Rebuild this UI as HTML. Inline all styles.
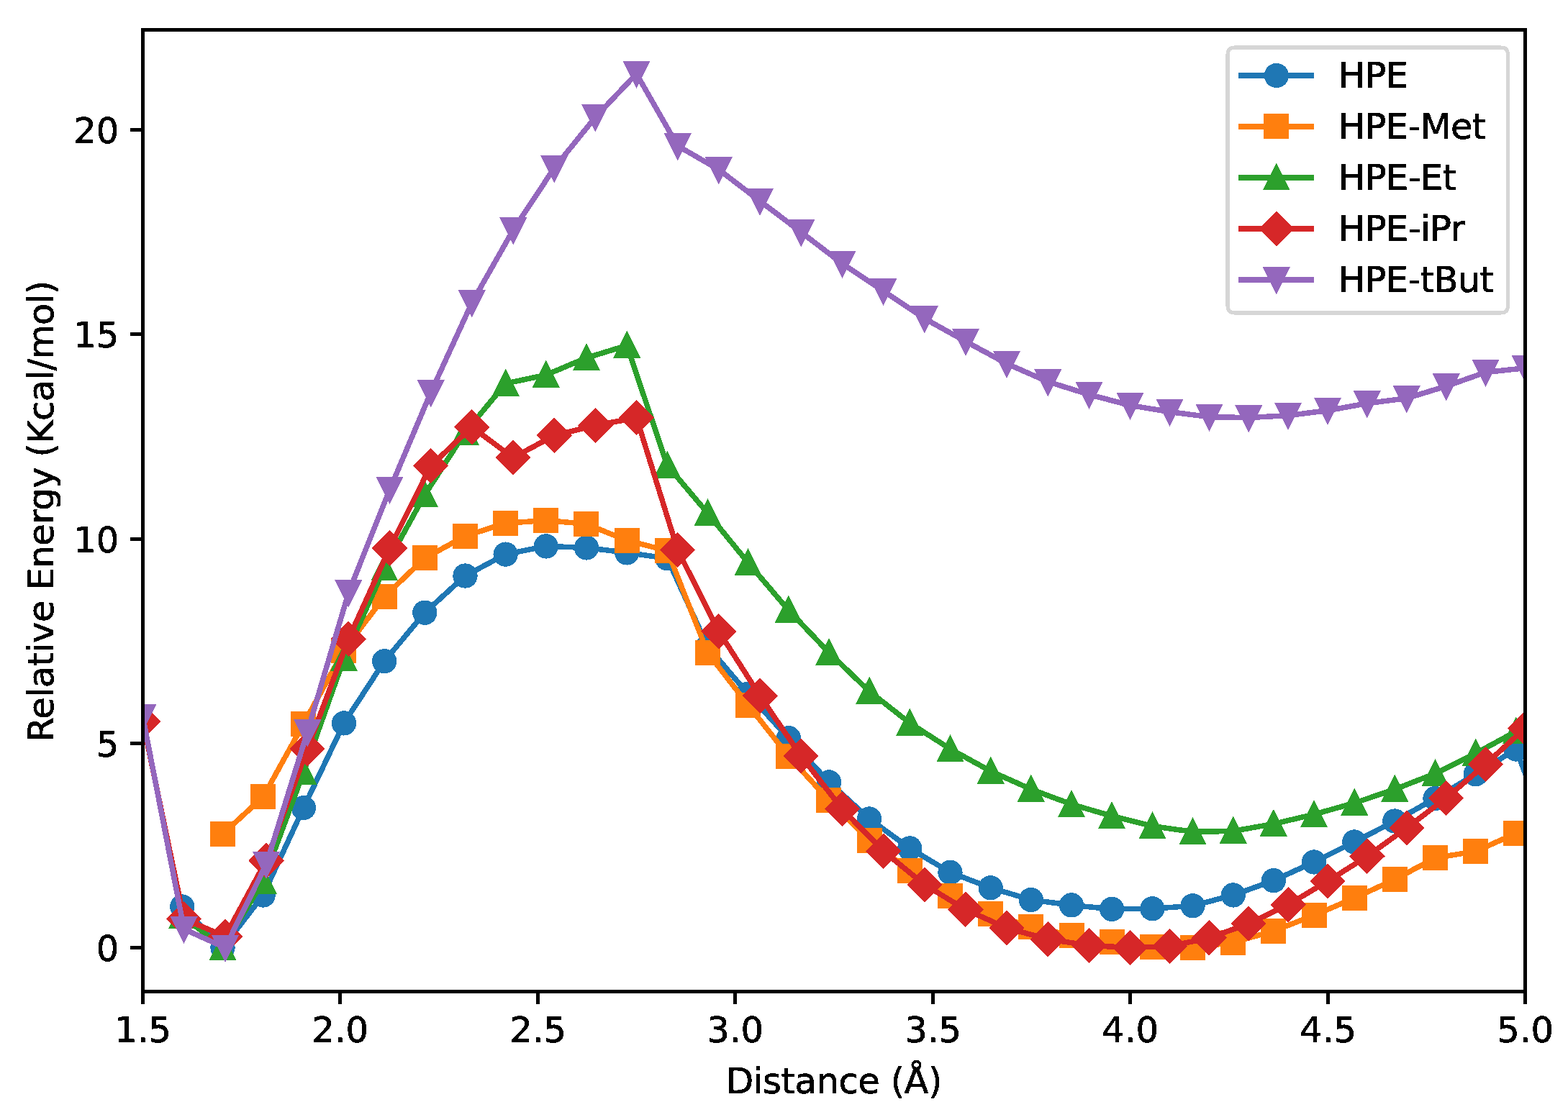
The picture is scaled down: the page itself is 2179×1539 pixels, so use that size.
<!DOCTYPE html>
<html lang="en"><head><meta charset="utf-8"><title>Relative Energy vs Distance</title>
<style>html,body{margin:0;padding:0;background:#fff}body{width:2179px;height:1539px;overflow:hidden}svg{display:block}text{font-family:"DejaVu Sans","Liberation Sans",sans-serif;font-size:49.6px;fill:#000;stroke:#000;stroke-width:0.7;stroke-linejoin:round}</style></head><body>
<svg width="2179" height="1539" viewBox="0 0 2179 1539">
<rect width="2179" height="1539" fill="#fff"/>
<filter id="mono" x="0" y="0" width="2179" height="1539" filterUnits="userSpaceOnUse" color-interpolation-filters="sRGB"><feComponentTransfer><feFuncA type="discrete" tableValues="0 1"/></feComponentTransfer></filter>
<svg x="198.5" y="41.5" width="1921" height="1337" viewBox="198.5 41.5 1921 1337" overflow="hidden" shape-rendering="crispEdges">
<g fill="#1f77b4" stroke="none">
<polyline fill="none" stroke="#1f77b4" stroke-width="7.5" stroke-linejoin="round" stroke-linecap="square" points="253.3,1260.5 309.47,1317.5 365.64,1244.5 421.8,1123.1 477.97,1005.4 534.14,919.3 590.31,851.7 646.48,800.5 702.64,770.6 758.81,759.4 814.98,761.45 871.15,768.4 927.32,776.3 983.48,899 1039.65,964.7 1095.82,1026.2 1151.99,1087.4 1208.16,1138.45 1264.32,1179.4 1320.49,1212.8 1376.66,1234.3 1432.83,1251 1489,1258.35 1545.16,1263.9 1601.33,1263.3 1657.5,1259.3 1713.67,1244.45 1769.84,1224.2 1826,1198.5 1882.17,1170.5 1938.34,1141.5 1994.51,1110 2050.68,1076.3 2106.84,1041.5 2163.01,1191.5"/>
<path d="M236.15 1260.5a17.15 17.15 0 1 0 34.3 0a17.15 17.15 0 1 0 -34.3 0zM292.32 1317.5a17.15 17.15 0 1 0 34.3 0a17.15 17.15 0 1 0 -34.3 0zM348.49 1244.5a17.15 17.15 0 1 0 34.3 0a17.15 17.15 0 1 0 -34.3 0zM404.65 1123.1a17.15 17.15 0 1 0 34.3 0a17.15 17.15 0 1 0 -34.3 0zM460.82 1005.4a17.15 17.15 0 1 0 34.3 0a17.15 17.15 0 1 0 -34.3 0zM516.99 919.3a17.15 17.15 0 1 0 34.3 0a17.15 17.15 0 1 0 -34.3 0zM573.16 851.7a17.15 17.15 0 1 0 34.3 0a17.15 17.15 0 1 0 -34.3 0zM629.33 800.5a17.15 17.15 0 1 0 34.3 0a17.15 17.15 0 1 0 -34.3 0zM685.49 770.6a17.15 17.15 0 1 0 34.3 0a17.15 17.15 0 1 0 -34.3 0zM741.66 759.4a17.15 17.15 0 1 0 34.3 0a17.15 17.15 0 1 0 -34.3 0zM797.83 761.45a17.15 17.15 0 1 0 34.3 0a17.15 17.15 0 1 0 -34.3 0zM854 768.4a17.15 17.15 0 1 0 34.3 0a17.15 17.15 0 1 0 -34.3 0zM910.17 776.3a17.15 17.15 0 1 0 34.3 0a17.15 17.15 0 1 0 -34.3 0zM966.33 899a17.15 17.15 0 1 0 34.3 0a17.15 17.15 0 1 0 -34.3 0zM1022.5 964.7a17.15 17.15 0 1 0 34.3 0a17.15 17.15 0 1 0 -34.3 0zM1078.67 1026.2a17.15 17.15 0 1 0 34.3 0a17.15 17.15 0 1 0 -34.3 0zM1134.84 1087.4a17.15 17.15 0 1 0 34.3 0a17.15 17.15 0 1 0 -34.3 0zM1191.01 1138.45a17.15 17.15 0 1 0 34.3 0a17.15 17.15 0 1 0 -34.3 0zM1247.17 1179.4a17.15 17.15 0 1 0 34.3 0a17.15 17.15 0 1 0 -34.3 0zM1303.34 1212.8a17.15 17.15 0 1 0 34.3 0a17.15 17.15 0 1 0 -34.3 0zM1359.51 1234.3a17.15 17.15 0 1 0 34.3 0a17.15 17.15 0 1 0 -34.3 0zM1415.68 1251a17.15 17.15 0 1 0 34.3 0a17.15 17.15 0 1 0 -34.3 0zM1471.85 1258.35a17.15 17.15 0 1 0 34.3 0a17.15 17.15 0 1 0 -34.3 0zM1528.01 1263.9a17.15 17.15 0 1 0 34.3 0a17.15 17.15 0 1 0 -34.3 0zM1584.18 1263.3a17.15 17.15 0 1 0 34.3 0a17.15 17.15 0 1 0 -34.3 0zM1640.35 1259.3a17.15 17.15 0 1 0 34.3 0a17.15 17.15 0 1 0 -34.3 0zM1696.52 1244.45a17.15 17.15 0 1 0 34.3 0a17.15 17.15 0 1 0 -34.3 0zM1752.69 1224.2a17.15 17.15 0 1 0 34.3 0a17.15 17.15 0 1 0 -34.3 0zM1808.85 1198.5a17.15 17.15 0 1 0 34.3 0a17.15 17.15 0 1 0 -34.3 0zM1865.02 1170.5a17.15 17.15 0 1 0 34.3 0a17.15 17.15 0 1 0 -34.3 0zM1921.19 1141.5a17.15 17.15 0 1 0 34.3 0a17.15 17.15 0 1 0 -34.3 0zM1977.36 1110a17.15 17.15 0 1 0 34.3 0a17.15 17.15 0 1 0 -34.3 0zM2033.53 1076.3a17.15 17.15 0 1 0 34.3 0a17.15 17.15 0 1 0 -34.3 0zM2089.69 1041.5a17.15 17.15 0 1 0 34.3 0a17.15 17.15 0 1 0 -34.3 0zM2145.86 1191.5a17.15 17.15 0 1 0 34.3 0a17.15 17.15 0 1 0 -34.3 0z"/>
</g>
<g fill="#ff7f0e" stroke="none">
<polyline fill="none" stroke="#ff7f0e" stroke-width="7.5" stroke-linejoin="round" stroke-linecap="square" points="309.47,1159.4 365.64,1107.95 421.8,1006.4 477.97,904.2 534.14,829.5 590.31,775.9 646.48,745.3 702.64,727.3 758.81,723.5 814.98,728.45 871.15,751.5 927.32,765.6 983.48,907.45 1039.65,980.1 1095.82,1051.2 1151.99,1112.5 1208.16,1168.4 1264.32,1210.5 1320.49,1245.4 1376.66,1270.5 1432.83,1288.45 1489,1300.35 1545.16,1309.2 1601.33,1316.3 1657.5,1317.5 1713.67,1310.2 1769.84,1294.3 1826,1272.5 1882.17,1248.5 1938.34,1222.6 1994.51,1192.7 2050.68,1183.6 2106.84,1158.5"/>
<path d="M291.97 1141.9h35v35h-35zM348.14 1090.45h35v35h-35zM404.3 988.9h35v35h-35zM460.47 886.7h35v35h-35zM516.64 812h35v35h-35zM572.81 758.4h35v35h-35zM628.98 727.8h35v35h-35zM685.14 709.8h35v35h-35zM741.31 706h35v35h-35zM797.48 710.95h35v35h-35zM853.65 734h35v35h-35zM909.82 748.1h35v35h-35zM965.98 889.95h35v35h-35zM1022.15 962.6h35v35h-35zM1078.32 1033.7h35v35h-35zM1134.49 1095h35v35h-35zM1190.66 1150.9h35v35h-35zM1246.82 1193h35v35h-35zM1302.99 1227.9h35v35h-35zM1359.16 1253h35v35h-35zM1415.33 1270.95h35v35h-35zM1471.5 1282.85h35v35h-35zM1527.66 1291.7h35v35h-35zM1583.83 1298.8h35v35h-35zM1640 1300h35v35h-35zM1696.17 1292.7h35v35h-35zM1752.34 1276.8h35v35h-35zM1808.5 1255h35v35h-35zM1864.67 1231h35v35h-35zM1920.84 1205.1h35v35h-35zM1977.01 1175.2h35v35h-35zM2033.18 1166.1h35v35h-35zM2089.34 1141h35v35h-35z"/>
</g>
<g fill="#2ca02c" stroke="none">
<polyline fill="none" stroke="#2ca02c" stroke-width="7.5" stroke-linejoin="round" stroke-linecap="square" points="253.3,1273.2 309.47,1317.5 365.64,1225.2 421.8,1073.8 477.97,915.8 534.14,789.9 590.31,687.9 646.48,601 702.64,533.2 758.81,521.2 814.98,497.5 871.15,480.3 927.32,647 983.48,713.5 1039.65,782.4 1095.82,848.25 1151.99,907.3 1208.16,961.1 1264.32,1005.2 1320.49,1041.2 1376.66,1072.1 1432.83,1097.25 1489,1118.15 1545.16,1134.5 1601.33,1148.5 1657.5,1156.4 1713.67,1155.4 1769.84,1145.45 1826,1132.2 1882.17,1116.4 1938.34,1097.3 1994.51,1075.35 2050.68,1047.4 2106.84,1016.8"/>
<path d="M253.3 1252.61L272.35 1290.7L234.25 1290.7zM309.47 1296.91L328.52 1335L290.42 1335zM365.64 1204.61L384.69 1242.7L346.59 1242.7zM421.8 1053.21L440.85 1091.3L402.75 1091.3zM477.97 895.21L497.02 933.3L458.92 933.3zM534.14 769.31L553.19 807.4L515.09 807.4zM590.31 667.31L609.36 705.4L571.26 705.4zM646.48 580.41L665.53 618.5L627.43 618.5zM702.64 512.61L721.69 550.7L683.59 550.7zM758.81 500.61L777.86 538.7L739.76 538.7zM814.98 476.91L834.03 515L795.93 515zM871.15 459.71L890.2 497.8L852.1 497.8zM927.32 626.41L946.37 664.5L908.27 664.5zM983.48 692.91L1002.53 731L964.43 731zM1039.65 761.81L1058.7 799.9L1020.6 799.9zM1095.82 827.66L1114.87 865.75L1076.77 865.75zM1151.99 886.71L1171.04 924.8L1132.94 924.8zM1208.16 940.51L1227.21 978.6L1189.11 978.6zM1264.32 984.61L1283.37 1022.7L1245.27 1022.7zM1320.49 1020.61L1339.54 1058.7L1301.44 1058.7zM1376.66 1051.51L1395.71 1089.6L1357.61 1089.6zM1432.83 1076.66L1451.88 1114.75L1413.78 1114.75zM1489 1097.56L1508.05 1135.65L1469.95 1135.65zM1545.16 1113.91L1564.21 1152L1526.11 1152zM1601.33 1127.91L1620.38 1166L1582.28 1166zM1657.5 1135.81L1676.55 1173.9L1638.45 1173.9zM1713.67 1134.81L1732.72 1172.9L1694.62 1172.9zM1769.84 1124.86L1788.89 1162.95L1750.79 1162.95zM1826 1111.61L1845.05 1149.7L1806.95 1149.7zM1882.17 1095.81L1901.22 1133.9L1863.12 1133.9zM1938.34 1076.71L1957.39 1114.8L1919.29 1114.8zM1994.51 1054.76L2013.56 1092.85L1975.46 1092.85zM2050.68 1026.81L2069.73 1064.9L2031.63 1064.9zM2106.84 996.21L2125.89 1034.3L2087.79 1034.3z"/>
</g>
<g fill="#d62728" stroke="none">
<polyline fill="none" stroke="#d62728" stroke-width="7.5" stroke-linejoin="round" stroke-linecap="square" points="198.5,1003 255.67,1277.5 312.84,1301.8 370.01,1196.4 427.18,1040.95 484.35,888.2 541.52,762 598.69,647.5 655.86,593.7 713.03,636.3 770.2,605.35 827.37,591.4 884.54,580.8 941.71,764.6 998.88,877.7 1056.05,967.4 1113.22,1051.15 1170.39,1124.75 1227.56,1183.1 1284.73,1229.9 1341.9,1264.5 1399.07,1290.2 1456.24,1305.7 1513.41,1314.4 1570.58,1317.5 1625.49,1315.5 1680.37,1303.95 1735.26,1284.1 1790.14,1257.6 1845.03,1225.1 1899.92,1190.5 1954.8,1151 2009.69,1109.55 2064.57,1062.4 2119.46,1012.2"/>
<path d="M198.5 978.4L223.1 1003L198.5 1027.6L173.9 1003zM255.67 1252.9L280.27 1277.5L255.67 1302.1L231.07 1277.5zM312.84 1277.2L337.44 1301.8L312.84 1326.4L288.24 1301.8zM370.01 1171.8L394.61 1196.4L370.01 1221L345.41 1196.4zM427.18 1016.35L451.78 1040.95L427.18 1065.55L402.58 1040.95zM484.35 863.6L508.95 888.2L484.35 912.8L459.75 888.2zM541.52 737.4L566.12 762L541.52 786.6L516.92 762zM598.69 622.9L623.29 647.5L598.69 672.1L574.09 647.5zM655.86 569.1L680.46 593.7L655.86 618.3L631.26 593.7zM713.03 611.7L737.63 636.3L713.03 660.9L688.43 636.3zM770.2 580.75L794.8 605.35L770.2 629.95L745.6 605.35zM827.37 566.8L851.97 591.4L827.37 616L802.77 591.4zM884.54 556.2L909.14 580.8L884.54 605.4L859.94 580.8zM941.71 740L966.31 764.6L941.71 789.2L917.11 764.6zM998.88 853.1L1023.48 877.7L998.88 902.3L974.28 877.7zM1056.05 942.8L1080.65 967.4L1056.05 992L1031.45 967.4zM1113.22 1026.55L1137.82 1051.15L1113.22 1075.75L1088.62 1051.15zM1170.39 1100.15L1194.99 1124.75L1170.39 1149.35L1145.79 1124.75zM1227.56 1158.5L1252.16 1183.1L1227.56 1207.7L1202.96 1183.1zM1284.73 1205.3L1309.33 1229.9L1284.73 1254.5L1260.13 1229.9zM1341.9 1239.9L1366.5 1264.5L1341.9 1289.1L1317.3 1264.5zM1399.07 1265.6L1423.67 1290.2L1399.07 1314.8L1374.47 1290.2zM1456.24 1281.1L1480.84 1305.7L1456.24 1330.3L1431.64 1305.7zM1513.41 1289.8L1538.01 1314.4L1513.41 1339L1488.81 1314.4zM1570.58 1292.9L1595.18 1317.5L1570.58 1342.1L1545.98 1317.5zM1625.49 1290.9L1650.09 1315.5L1625.49 1340.1L1600.89 1315.5zM1680.37 1279.35L1704.97 1303.95L1680.37 1328.55L1655.77 1303.95zM1735.26 1259.5L1759.86 1284.1L1735.26 1308.7L1710.66 1284.1zM1790.14 1233L1814.74 1257.6L1790.14 1282.2L1765.54 1257.6zM1845.03 1200.5L1869.63 1225.1L1845.03 1249.7L1820.43 1225.1zM1899.92 1165.9L1924.52 1190.5L1899.92 1215.1L1875.32 1190.5zM1954.8 1126.4L1979.4 1151L1954.8 1175.6L1930.2 1151zM2009.69 1084.95L2034.29 1109.55L2009.69 1134.15L1985.09 1109.55zM2064.57 1037.8L2089.17 1062.4L2064.57 1087L2039.97 1062.4zM2119.46 987.6L2144.06 1012.2L2119.46 1036.8L2094.86 1012.2z"/>
</g>
<g fill="#9467bd" stroke="none">
<polyline fill="none" stroke="#9467bd" stroke-width="7.5" stroke-linejoin="round" stroke-linecap="square" points="198.5,996.8 255.67,1291.6 312.84,1317.5 370.01,1201.7 427.18,1017.6 484.35,823.9 541.52,680.7 598.69,545.6 655.86,420.8 713.03,319.9 770.2,233.6 827.37,162.9 884.54,102.6 941.71,202.7 998.88,235.8 1056.05,279.4 1113.22,322.7 1170.39,366.45 1227.56,404.45 1284.73,442.8 1341.9,474.6 1399.07,505.6 1456.24,530.7 1513.41,548.5 1570.58,563.55 1625.49,572.6 1680.37,579.6 1735.26,580.6 1790.14,577.6 1845.03,570.7 1899.92,560.75 1954.8,553.7 2009.69,536.9 2064.57,517.55 2119.46,511.7"/>
<path d="M198.5 1017.39L217.55 979.3L179.45 979.3zM255.67 1312.19L274.72 1274.1L236.62 1274.1zM312.84 1338.09L331.89 1300L293.79 1300zM370.01 1222.29L389.06 1184.2L350.96 1184.2zM427.18 1038.19L446.23 1000.1L408.13 1000.1zM484.35 844.49L503.4 806.4L465.3 806.4zM541.52 701.29L560.57 663.2L522.47 663.2zM598.69 566.19L617.74 528.1L579.64 528.1zM655.86 441.39L674.91 403.3L636.81 403.3zM713.03 340.49L732.08 302.4L693.98 302.4zM770.2 254.19L789.25 216.1L751.15 216.1zM827.37 183.49L846.42 145.4L808.32 145.4zM884.54 123.19L903.59 85.1L865.49 85.1zM941.71 223.29L960.76 185.2L922.66 185.2zM998.88 256.39L1017.93 218.3L979.83 218.3zM1056.05 299.99L1075.1 261.9L1037 261.9zM1113.22 343.29L1132.27 305.2L1094.17 305.2zM1170.39 387.04L1189.44 348.95L1151.34 348.95zM1227.56 425.04L1246.61 386.95L1208.51 386.95zM1284.73 463.39L1303.78 425.3L1265.68 425.3zM1341.9 495.19L1360.95 457.1L1322.85 457.1zM1399.07 526.19L1418.12 488.1L1380.02 488.1zM1456.24 551.29L1475.29 513.2L1437.19 513.2zM1513.41 569.09L1532.46 531L1494.36 531zM1570.58 584.14L1589.63 546.05L1551.53 546.05zM1625.49 593.19L1644.54 555.1L1606.44 555.1zM1680.37 600.19L1699.42 562.1L1661.32 562.1zM1735.26 601.19L1754.31 563.1L1716.21 563.1zM1790.14 598.19L1809.19 560.1L1771.09 560.1zM1845.03 591.29L1864.08 553.2L1825.98 553.2zM1899.92 581.34L1918.97 543.25L1880.87 543.25zM1954.8 574.29L1973.85 536.2L1935.75 536.2zM2009.69 557.49L2028.74 519.4L1990.64 519.4zM2064.57 538.14L2083.62 500.05L2045.52 500.05zM2119.46 532.29L2138.51 494.2L2100.41 494.2z"/>
</g>
</svg>
<g stroke="#000" stroke-width="5" fill="none" shape-rendering="crispEdges">
<line x1="198.5" y1="1378.5" x2="198.5" y2="1396"/>
<line x1="472.5" y1="1378.5" x2="472.5" y2="1396"/>
<line x1="747.5" y1="1378.5" x2="747.5" y2="1396"/>
<line x1="1021.5" y1="1378.5" x2="1021.5" y2="1396"/>
<line x1="1296.5" y1="1378.5" x2="1296.5" y2="1396"/>
<line x1="1570.5" y1="1378.5" x2="1570.5" y2="1396"/>
<line x1="1845.5" y1="1378.5" x2="1845.5" y2="1396"/>
<line x1="2119.5" y1="1378.5" x2="2119.5" y2="1396"/>
<line x1="181" y1="1317.5" x2="198.5" y2="1317.5"/>
<line x1="181" y1="1033.5" x2="198.5" y2="1033.5"/>
<line x1="181" y1="749.5" x2="198.5" y2="749.5"/>
<line x1="181" y1="464.5" x2="198.5" y2="464.5"/>
<line x1="181" y1="180.5" x2="198.5" y2="180.5"/>
<rect x="198.5" y="41.5" width="1921" height="1337" stroke-linejoin="miter"/>
</g>
<path d="M1716 66H2085.5Q2095.5 66 2095.5 76V425Q2095.5 435 2085.5 435H1716Q1706 435 1706 425V76Q1706 66 1716 66Z" fill="#fff" fill-opacity="0.8" stroke="#ccc" stroke-opacity="0.8" stroke-width="5.1" stroke-linejoin="miter" shape-rendering="crispEdges"/>
<g fill="#1f77b4" shape-rendering="crispEdges">
<line x1="1724.75" y1="105" x2="1822.25" y2="105" stroke="#1f77b4" stroke-width="7.5" stroke-linecap="square"/>
<path d="M1756.75 105a17.15 17.15 0 1 0 34.3 0a17.15 17.15 0 1 0 -34.3 0z"/>
</g>
<g fill="#ff7f0e" shape-rendering="crispEdges">
<line x1="1724.75" y1="175.97" x2="1822.25" y2="175.97" stroke="#ff7f0e" stroke-width="7.5" stroke-linecap="square"/>
<path d="M1756.4 158.47h35v35h-35z"/>
</g>
<g fill="#2ca02c" shape-rendering="crispEdges">
<line x1="1724.75" y1="246.94" x2="1822.25" y2="246.94" stroke="#2ca02c" stroke-width="7.5" stroke-linecap="square"/>
<path d="M1773.9 226.35L1792.95 264.44L1754.85 264.44z"/>
</g>
<g fill="#d62728" shape-rendering="crispEdges">
<line x1="1724.75" y1="317.91" x2="1822.25" y2="317.91" stroke="#d62728" stroke-width="7.5" stroke-linecap="square"/>
<path d="M1773.9 293.31L1798.5 317.91L1773.9 342.51L1749.3 317.91z"/>
</g>
<g fill="#9467bd" shape-rendering="crispEdges">
<line x1="1724.75" y1="388.88" x2="1822.25" y2="388.88" stroke="#9467bd" stroke-width="7.5" stroke-linecap="square"/>
<path d="M1773.9 409.47L1792.95 371.38L1754.85 371.38z"/>
</g>
<g filter="url(#mono)">
<g text-anchor="middle">
<text x="198.6" y="1449.3">1.5</text>
<text x="472.6" y="1449.3">2.0</text>
<text x="747.6" y="1449.3">2.5</text>
<text x="1021.6" y="1449.3">3.0</text>
<text x="1296.6" y="1449.3">3.5</text>
<text x="1570.6" y="1449.3">4.0</text>
<text x="1845.6" y="1449.3">4.5</text>
<text x="2119.6" y="1449.3">5.0</text>
</g>
<g text-anchor="end">
<text x="165.3" y="1336.1">0</text>
<text x="165.3" y="1052.1">5</text>
<text x="165.3" y="768.1">10</text>
<text x="165.3" y="483.1">15</text>
<text x="165.3" y="199.1">20</text>
</g>
<text x="1159.2" y="1520" text-anchor="middle" textLength="300.5" lengthAdjust="spacing">Distance (Å)</text>
<text transform="translate(74.3 0) rotate(-90)"><tspan x="-1031.5" textLength="196.94" lengthAdjust="spacing">Relative</tspan> <tspan x="-820.59" textLength="171.07" lengthAdjust="spacing">Energy</tspan> <tspan x="-635.4" textLength="245.56" lengthAdjust="spacing">(Kcal/mol)</tspan></text>
<text x="1860" y="122.1" textLength="97.05" lengthAdjust="spacing">HPE</text>
<text x="1859.95" y="193.07" textLength="205.24" lengthAdjust="spacing">HPE-Met</text>
<text x="1860.05" y="264.04" textLength="164.07" lengthAdjust="spacing">HPE-Et</text>
<text x="1860" y="335.01" textLength="175.87" lengthAdjust="spacing">HPE-iPr</text>
<text x="1859.95" y="405.98" textLength="216.07" lengthAdjust="spacing">HPE-tBut</text>
</g>
</svg></body></html>
